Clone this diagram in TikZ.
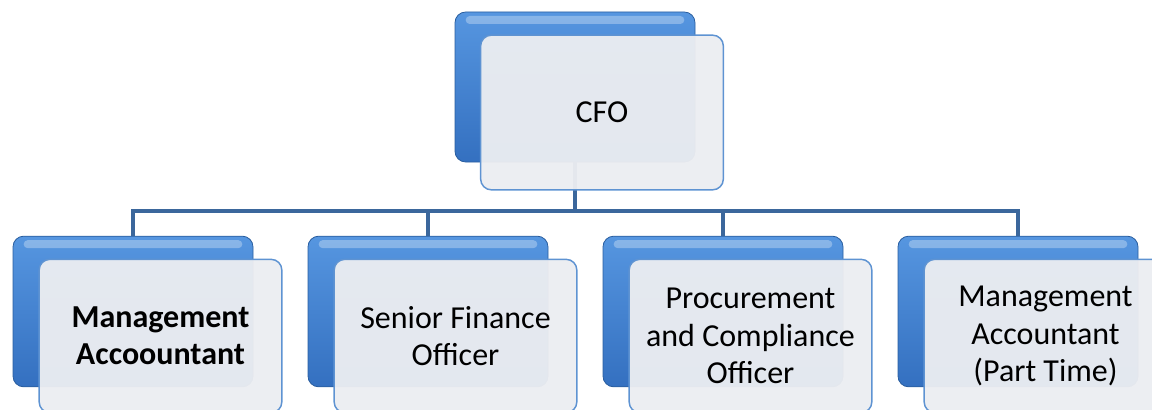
\documentclass[tikz,border=0pt]{standalone}
\usepackage{fontspec}
\setmainfont{Carlito}
\definecolor{blueTop}{HTML}{5696E0}
\definecolor{blueBot}{HTML}{3470C0}
\definecolor{blueEdge}{HTML}{2A5E9F}
\definecolor{frontFill}{HTML}{EBEDF1}
\definecolor{frontEdge}{HTML}{5E93D2}
\definecolor{lineBlue}{HTML}{3B679C}
\tikzset{
  backbox/.style={rounded corners=8pt, draw=blueEdge, line width=0.6pt,
    top color=blueTop, bottom color=blueBot, inner sep=0pt,
    minimum width=180pt, minimum height=113pt,
    path picture={\fill[white,opacity=0.3,rounded corners=3pt]
      ([xshift=8pt,yshift=-3pt]path picture bounding box.north west) rectangle
      ([xshift=-8pt,yshift=-9pt]path picture bounding box.north east);}},
  frontbox/.style={rounded corners=8pt, draw=frontEdge, line width=1.1pt,
    fill=frontFill, fill opacity=0.96, text opacity=1, inner sep=0pt,
    minimum width=182pt, minimum height=115pt, align=center,
    font=\fontsize{24}{28}\selectfont},
  orgline/.style={draw=lineBlue, line width=3pt},
}
\begin{document}
\begin{tikzpicture}[x=0.75pt,y=-0.75pt]
\useasboundingbox (0,0) rectangle (1152,410);
% back boxes
\node[backbox, minimum height=112.5pt] (cfoB) at (575,87) {};
\node[backbox] (b1B) at (133,311.5) {};
\node[backbox] (b2B) at (428,311.5) {};
\node[backbox] (b3B) at (723,311.5) {};
\node[backbox] (b4B) at (1018,311.5) {};
% connectors
\coordinate (bus) at (575,211);
\draw[orgline] (cfoB.south) -- (bus);
\draw[orgline] (bus) -| (b1B.north);
\draw[orgline] (bus) -| (b2B.north);
\draw[orgline] (bus) -| (b3B.north);
\draw[orgline] (bus) -| (b4B.north);
% front boxes
\node[frontbox, minimum height=116pt] (cfo) at (602,112.5) {CFO};
\node[frontbox] (b1) at (160.5,336) {\textbf{Management}\\\textbf{Accoountant}};
\node[frontbox] (b2) at (455.5,336) {Senior Finance\\Officer};
\node[frontbox] (b3) at (750.5,336) {Procurement\\and Compliance\\Officer};
\node[frontbox] (b4) at (1045.5,336) {Management\\Accountant\\(Part Time)};
\end{tikzpicture}
\end{document}
